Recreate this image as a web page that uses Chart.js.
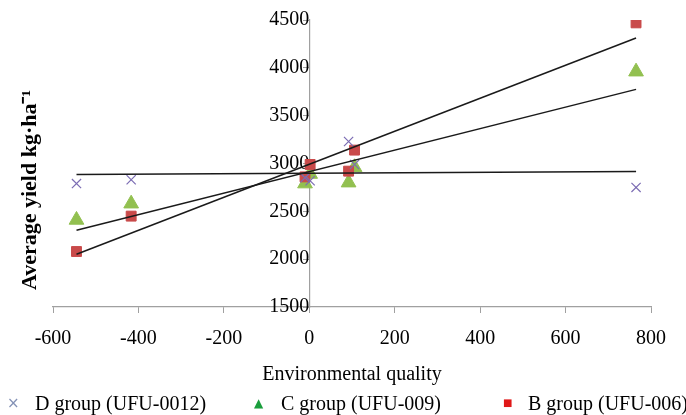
<!DOCTYPE html>
<html>
<head>
<meta charset="utf-8">
<script src="https://cdn.jsdelivr.net/npm/chart.js@4/dist/chart.umd.min.js"></script>
<style>
  html, body { margin: 0; padding: 0; background: #fff; }
  #wrap { position: relative; width: 686px; height: 415px; }
  .leg { position: absolute; top: 390px; font: 20px "Liberation Serif", "Times New Roman", serif; color: #000; white-space: nowrap; line-height: 26px; }
  .mk { position: absolute; top: 390px; line-height: 26px; font-family: "DejaVu Sans", sans-serif; }
</style>
</head>
<body>
<div id="wrap">
  <canvas id="chart" width="686" height="415"></canvas>
  <span class="mk" style="left:7px; font-size:15px; color:#8492b6;">×</span>
  <span class="leg" style="left:35px;">D group (UFU-0012)</span>
  <span class="mk" style="left:254px; font-size:12px; color:#1a9e3c;">▲</span>
  <span class="leg" style="left:281px;">C group (UFU-009)</span>
  <span class="mk" style="left:503px; font-size:10px; color:#e01818;">■</span>
  <span class="leg" style="left:528px;">B group (UFU-006)</span>
</div>
<script>
// environmental quality index (x) for each environment
const envQuality = [-545, -417, -10, 2, 92, 106, 765];
// average yield per group (kg/ha)
const groupD = [2790, 2830, 2850, 2820, 3230, 2990, 2750];
const groupC = [2410, 2580, 2790, 2890, 2800, 2960, 3960];
const groupB = [2080, 2450, 2860, 2990, 2920, 3140, 4470];
// fitted trend lines (end points)
const trendX = [-545, 765];
const trendD = [2885, 2917];
const trendC = [2302, 3775];
const trendB = [2052, 4312];

const xTicks = [-600, 800, 200];
const yTicks = [1500, 4500, 500];

const serif = '"Liberation Serif", "Times New Roman", serif';

function toPoints(xs, ys) {
  return xs.map((x, i) => ({ x, y: ys[i] }));
}

function trendSet(ys) {
  return {
    type: 'line',
    data: toPoints(trendX, ys),
    borderColor: '#1a1a1a',
    borderWidth: 1.5,
    pointRadius: 0,
    fill: false,
    order: 0
  };
}

const yTitle = {
  id: 'yTitle',
  afterDraw(chart) {
    const ctx = chart.ctx;
    ctx.save();
    ctx.translate(30, 190);
    ctx.rotate(-Math.PI / 2);
    ctx.font = 'bold 22px ' + serif;
    ctx.fillStyle = '#000';
    ctx.textAlign = 'center';
    ctx.textBaseline = 'middle';
    ctx.fillText('Average yield kg·ha⁻¹', 0, 0);
    ctx.restore();
  }
};

new Chart(document.getElementById('chart'), {
  type: 'scatter',
  data: {
    datasets: [
      {
        label: 'D group (UFU-0012)',
        data: toPoints(envQuality, groupD),
        pointStyle: 'crossRot',
        pointRadius: 6.5,
        pointBorderWidth: 1.2,
        borderColor: '#7b6cb3',
        backgroundColor: '#7b6cb3',
        order: 1
      },
      {
        label: 'C group (UFU-009)',
        data: toPoints(envQuality, groupC),
        pointStyle: 'triangle',
        pointRadius: 8.5,
        borderColor: '#92c050',
        backgroundColor: '#92c050',
        order: 3
      },
      {
        label: 'B group (UFU-006)',
        data: toPoints(envQuality, groupB),
        pointStyle: 'rect',
        pointRadius: 7,
        borderColor: '#c94a4a',
        backgroundColor: '#c94a4a',
        order: 2
      },
      trendSet(trendD),
      trendSet(trendC),
      trendSet(trendB)
    ]
  },
  options: {
    responsive: false,
    animation: false,
    layout: { padding: { left: 53, right: 35, top: 20, bottom: 26 } },
    plugins: {
      legend: { display: false },
      tooltip: { enabled: false }
    },
    scales: {
      x: {
        type: 'linear',
        min: xTicks[0],
        max: xTicks[1],
        ticks: { stepSize: xTicks[2], color: '#000', font: { family: serif, size: 20, lineHeight: 0.6 }, padding: 20, maxRotation: 0 },
        grid: { drawOnChartArea: false, tickLength: 6, color: '#a0a0a0' },
        border: { color: '#a0a0a0', width: 1.2 },
        title: { display: true, text: 'Environmental quality', color: '#000', font: { family: serif, size: 20, lineHeight: 1 }, padding: { top: 0, bottom: 4 } }
      },
      y: {
        type: 'linear',
        position: { x: 0 },
        min: yTicks[0],
        max: yTicks[1],
        ticks: { stepSize: yTicks[2], color: '#000', font: { family: serif, size: 20 }, padding: 5, callback: v => String(v) },
        grid: { drawOnChartArea: false, tickLength: 6, color: '#a0a0a0' },
        border: { color: '#a0a0a0', width: 1.2 }
      }
    }
  },
  plugins: [yTitle]
});
</script>
</body>
</html>
